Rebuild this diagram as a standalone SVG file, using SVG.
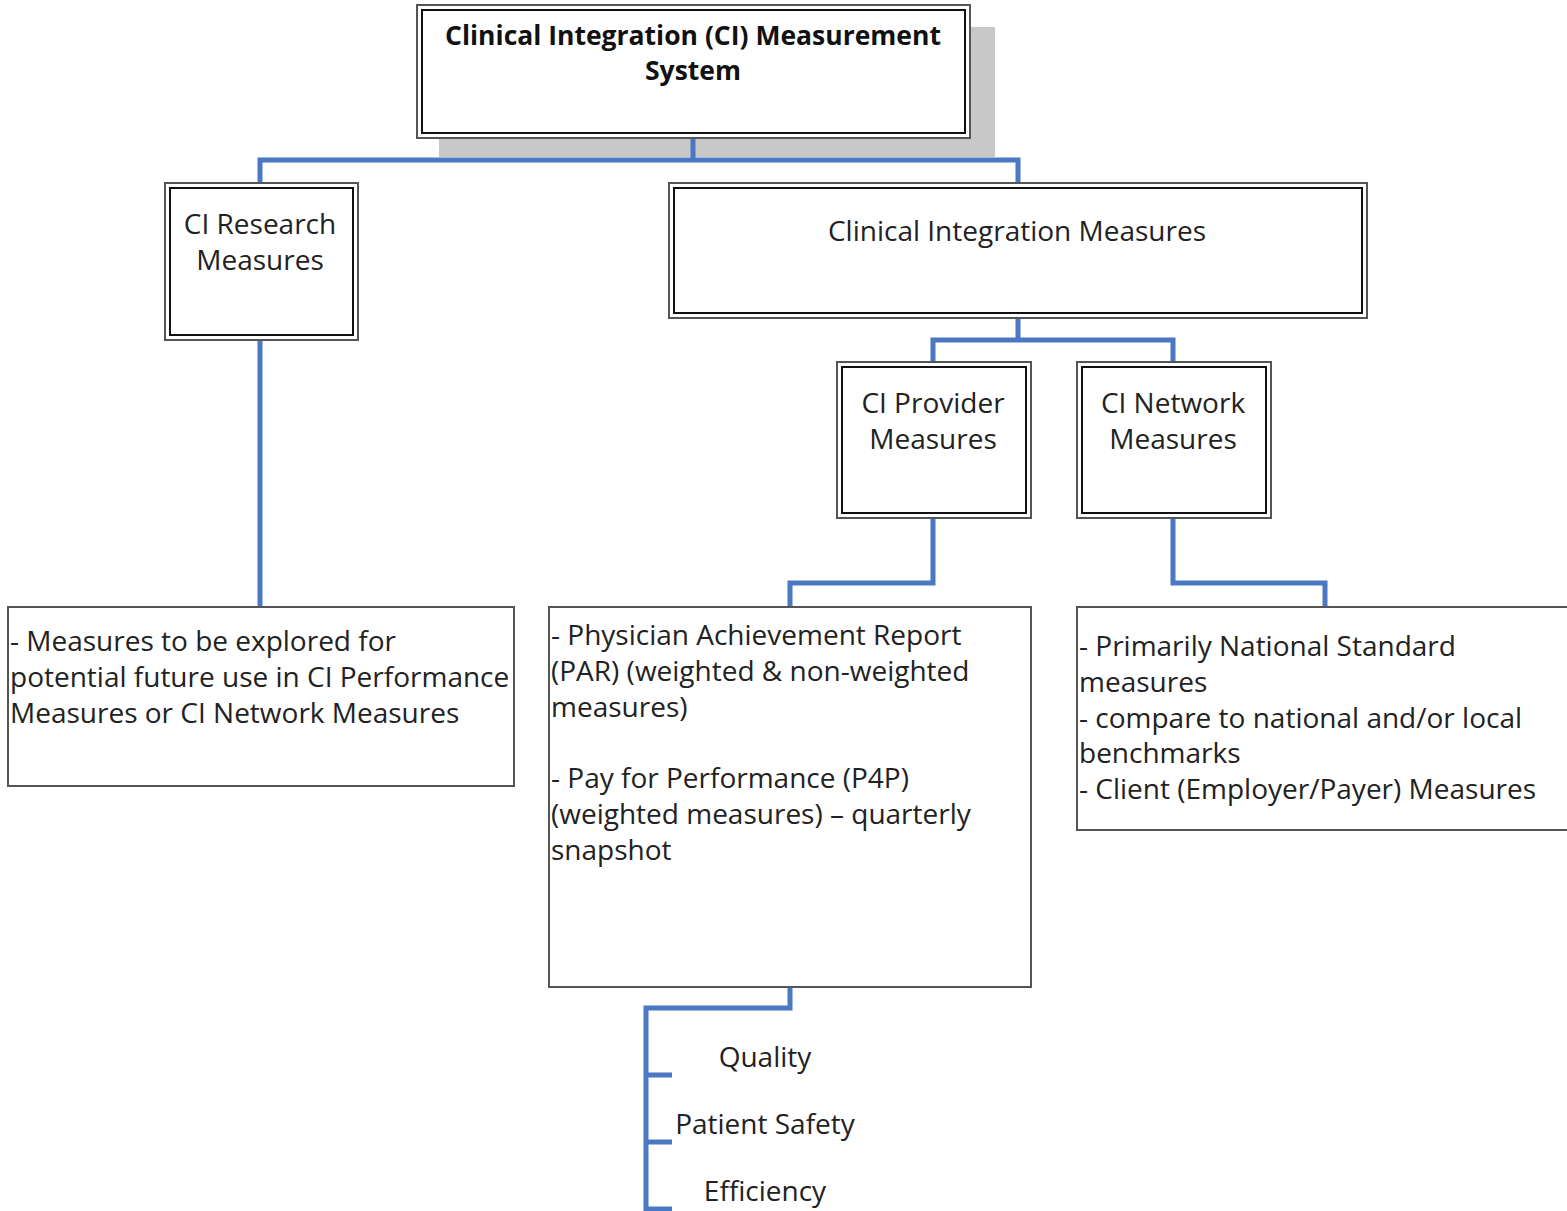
<svg xmlns="http://www.w3.org/2000/svg" width="1567" height="1211" viewBox="0 0 1567 1211">
  <style>
    .outer { fill: #ffffff; stroke: #555555; stroke-width: 2; }
    .inner { fill: none; stroke: #111111; stroke-width: 2; }
    .leaf { fill: #ffffff; stroke: #555555; stroke-width: 2; }
    .conn { fill: none; stroke: #4a78c2; stroke-width: 5; stroke-linejoin: miter; }
    text { font-family: "Open Sans", "Liberation Sans", sans-serif; font-size: 28px; fill: #222222; }
    .c { text-anchor: middle; }
    .b { font-weight: bold; font-size: 26.5px; fill: #111111; }
  </style>

  <rect width="1567" height="1211" fill="#ffffff"/>

  <!-- root -->
  <g id="root">
    <rect x="439" y="27" width="556" height="130" fill="#c8c8c8"/>
    <rect class="outer" x="417" y="5" width="553" height="133"/>
    <rect class="inner" x="422" y="10" width="543" height="123"/>
    <text class="c b" x="693" y="45">Clinical Integration (CI) Measurement</text>
    <text class="c b" x="693" y="80">System</text>
  </g>

  <g id="research">
    <rect class="outer" x="165" y="183" width="193" height="157"/>
    <rect class="inner" x="170" y="188" width="183" height="147"/>
    <text class="c" x="260" y="234">CI Research</text>
    <text class="c" x="260" y="270">Measures</text>
  </g>

  <g id="integration">
    <rect class="outer" x="669" y="183" width="698" height="135"/>
    <rect class="inner" x="674" y="188" width="688" height="125"/>
    <text class="c" x="1017" y="241">Clinical Integration Measures</text>
  </g>

  <g id="provider">
    <rect class="outer" x="837" y="362" width="194" height="156"/>
    <rect class="inner" x="842" y="367" width="184" height="146"/>
    <text class="c" x="933" y="413">CI Provider</text>
    <text class="c" x="933" y="449">Measures</text>
  </g>

  <g id="network">
    <rect class="outer" x="1077" y="362" width="194" height="156"/>
    <rect class="inner" x="1082" y="367" width="184" height="146"/>
    <text class="c" x="1173" y="413">CI Network</text>
    <text class="c" x="1173" y="449">Measures</text>
  </g>

  <g id="research-detail">
    <rect class="leaf" x="8" y="607" width="506" height="179"/>
    <text x="10" y="651">- Measures to be explored for</text>
    <text x="10" y="687">potential future use in CI Performance</text>
    <text x="10" y="723">Measures or CI Network Measures</text>
  </g>

  <g id="provider-detail">
    <rect class="leaf" x="549" y="607" width="482" height="380"/>
    <text x="551" y="645">- Physician Achievement Report</text>
    <text x="551" y="681">(PAR) (weighted &amp; non-weighted</text>
    <text x="551" y="717">measures)</text>
    <text x="551" y="788">- Pay for Performance (P4P)</text>
    <text x="551" y="824">(weighted measures) – quarterly</text>
    <text x="551" y="860">snapshot</text>
  </g>

  <g id="network-detail">
    <rect class="leaf" x="1077" y="607" width="500" height="223"/>
    <text x="1079" y="656">- Primarily National Standard</text>
    <text x="1079" y="692">measures</text>
    <text x="1079" y="728">- compare to national and/or local</text>
    <text x="1079" y="763">benchmarks</text>
    <text x="1079" y="799">- Client (Employer/Payer) Measures</text>
  </g>

  <g id="quality"><text class="c" x="765" y="1067">Quality</text></g>
  <g id="safety"><text class="c" x="765" y="1134">Patient Safety</text></g>
  <g id="efficiency"><text class="c" x="765" y="1201">Efficiency</text></g>

  <!-- connectors, drawn last so the root stem shows over the shadow -->
  <g id="connectors">
    <path class="conn" d="M693,139 V160 M260,182 V160 H1018 V182"/>
    <path class="conn" d="M260,341 V606"/>
    <path class="conn" d="M1018,319 V340 M933,361 V340 H1173 V361"/>
    <path class="conn" d="M933,519 V583 H790 V606"/>
    <path class="conn" d="M1173,519 V583 H1325 V606"/>
    <path class="conn" d="M790,988 V1008 H646 V1211 M646,1075 H672 M646,1142 H672 M646,1209 H672"/>
  </g>
</svg>
